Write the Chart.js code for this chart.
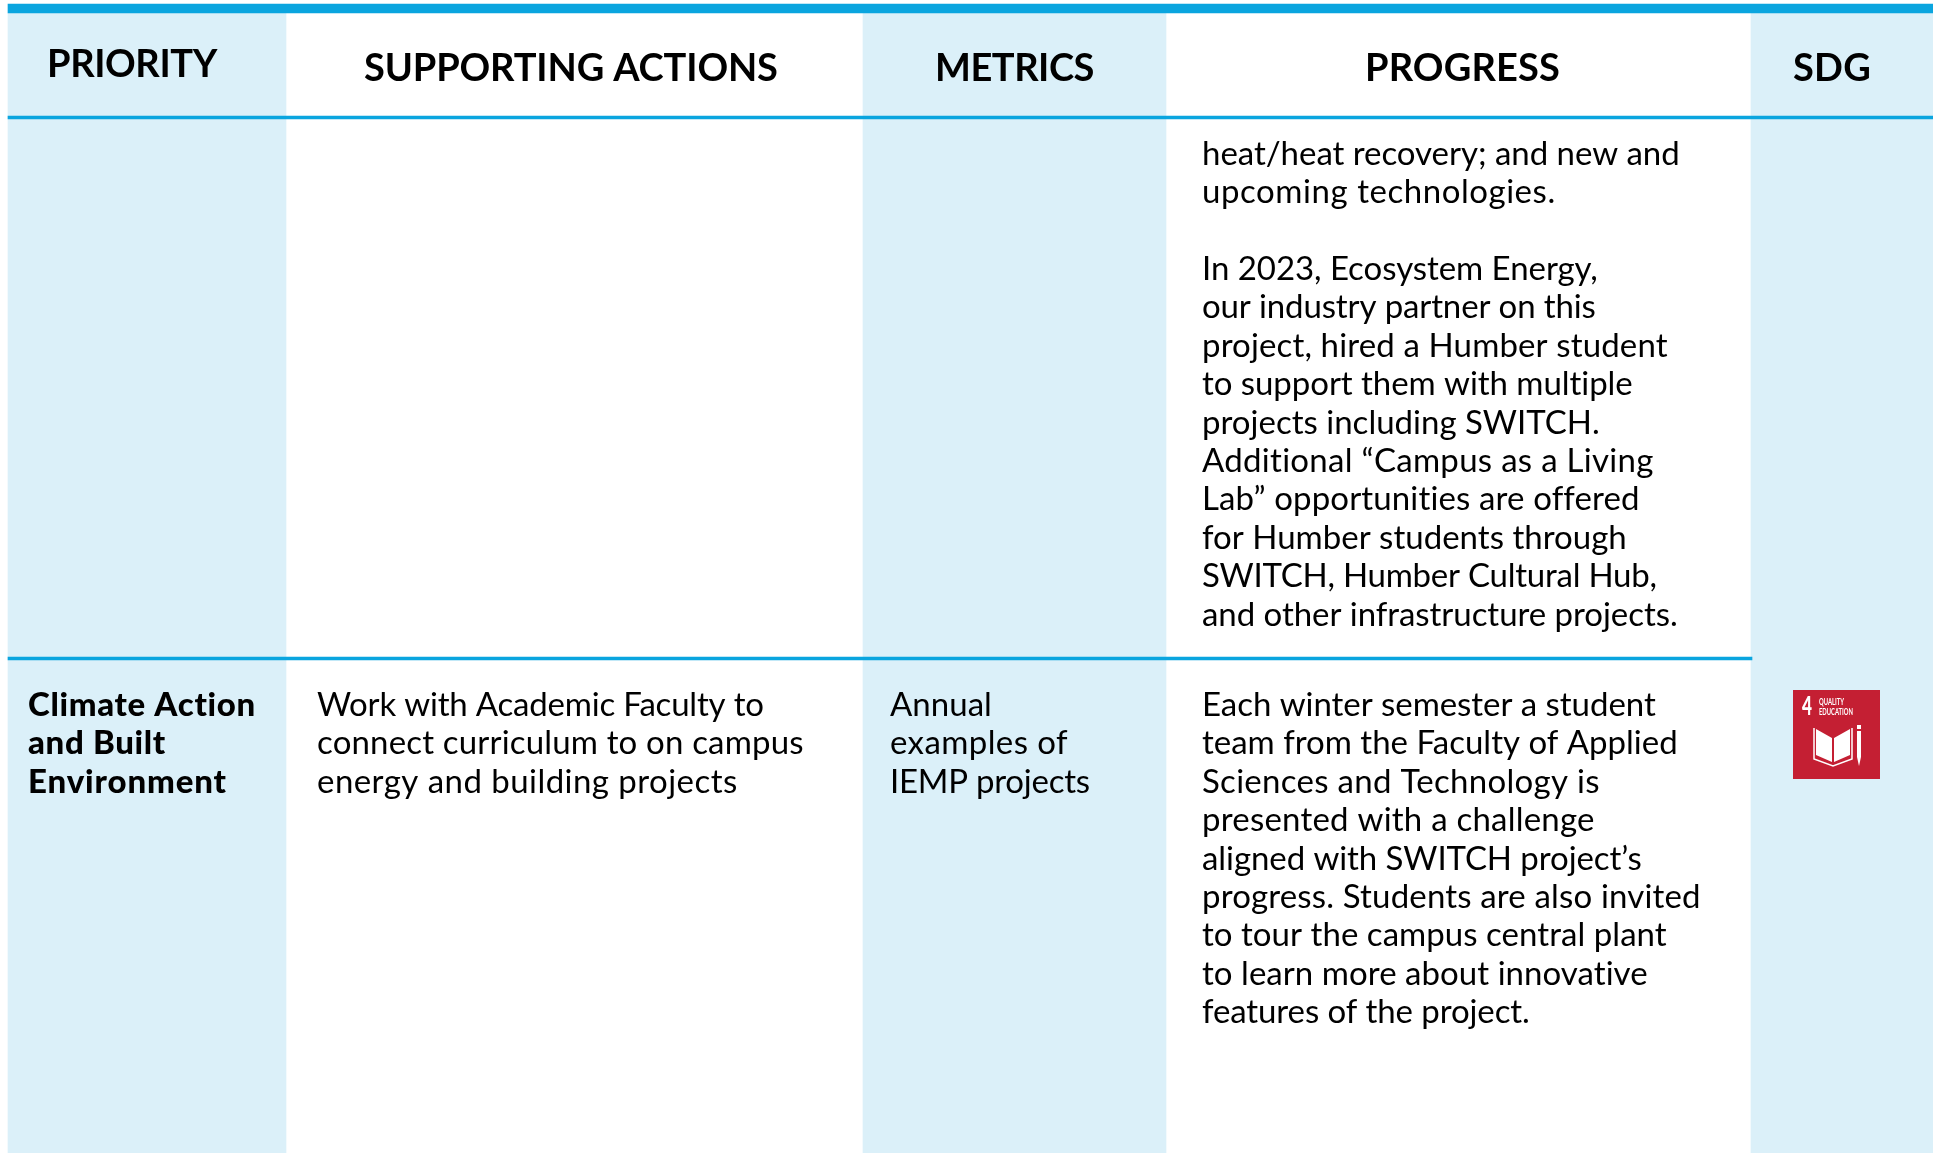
<!DOCTYPE html>
<html>
<head>
<meta charset="utf-8">
<title>Priority table</title>
<style>
    html, body { margin: 0; padding: 0; background: #fff; }
    canvas { display: block; }
</style>
<script src="https://cdn.jsdelivr.net/npm/chart.js@4.4.3/dist/chart.umd.min.js"></script>
</head>
<body>
<canvas id="chart" width="1933" height="1153"></canvas>
<script>
const headers = ['PRIORITY', 'SUPPORTING ACTIONS', 'METRICS', 'PROGRESS', 'SDG'];
const priorityLines = ['Climate Action', 'and Built', 'Environment'];
const actionLines = ['Work with Academic Faculty to', 'connect curriculum to on campus', 'energy and building projects'];
const metricLines = ['Annual', 'examples of', 'IEMP projects'];
const progressTop = ['heat/heat recovery; and new and', 'upcoming technologies.'];
const progressMiddle = [
    'In 2023, Ecosystem Energy,',
    'our industry partner on this',
    'project, hired a Humber student',
    'to support them with multiple',
    'projects including SWITCH.',
    'Additional “Campus as a Living',
    'Lab” opportunities are offered',
    'for Humber students through',
    'SWITCH, Humber Cultural Hub,',
    'and other infrastructure projects.'
];
const progressBottom = [
    'Each winter semester a student',
    'team from the Faculty of Applied',
    'Sciences and Technology is',
    'presented with a challenge',
    'aligned with SWITCH project’s',
    'progress. Students are also invited',
    'to tour the campus central plant',
    'to learn more about innovative',
    'features of the project.'
];

const BLUE = '#0aa5df';
const TINT = '#dbf0f9';
const FONT = 'Lato, "Noto Sans", sans-serif';

// tinted columns and rules are floating bars on page-sized scales
const bands = [[8, 286], [863, 1166], [1751, 1933]];
const rules = [
    { x: [8, 1933], y: 8.5, h: 9 },
    { x: [8, 1933], y: 117.5, h: 3 },
    { x: [8, 1752], y: 658.5, h: 3 }
];

// where each text line ends in the reference, the fallback font runs a bit different
const headEnds = [217, 778, 1094, 1560, 1871];
const topEnds = [1680, 1556];
const middleEnds = [1598, 1596, 1668, 1633, 1600, 1654, 1640, 1627, 1657, 1678];
const bottomEnds = [1656, 1678, 1600, 1595, 1642, 1701, 1667, 1648, 1530];
const actionEnds = [764, 804, 738];
const metricEnds = [992, 1068, 1090];
const priorityEnds = [256, 166, 227];

const bandSets = bands.map(b => ({
    data: [{ x: b, y: 583 }],
    backgroundColor: TINT,
    barThickness: 1140,
    grouped: false
}));
const ruleSets = rules.map(r => ({
    data: [{ x: r.x, y: r.y }],
    backgroundColor: BLUE,
    barThickness: r.h,
    grouped: false
}));

function fitText(ctx, text, x, end, y) {
    ctx.letterSpacing = '0.01px'; // also turns the ti/ft ligatures off
    const spare = end - x - ctx.measureText(text).width;
    ctx.letterSpacing = (spare / text.length) + 'px';
    ctx.fillText(text, x, y);
}

function drawLines(ctx, xs, ys, lines, ends, x, y, font) {
    ctx.font = font;
    lines.forEach((t, i) => fitText(ctx, t, xs.getPixelForValue(x), xs.getPixelForValue(ends[i]), ys.getPixelForValue(y + i * 38.4)));
}

function drawBadge(ctx, xs, ys) {
    const px = v => xs.getPixelForValue(v);
    const py = v => ys.getPixelForValue(v);
    ctx.letterSpacing = '0px';
    ctx.fillStyle = '#c41f33';
    ctx.fillRect(px(1793), py(690), 87, 89);
    ctx.fillStyle = '#fff';
    ctx.textAlign = 'left';
    ctx.font = `900 26px ${FONT}`;
    ctx.fillText('4', px(1802), py(715), 10);
    ctx.font = `bold 10px ${FONT}`;
    ctx.fillText('QUALITY', px(1819), py(704.5), 25);
    ctx.fillText('EDUCATION', px(1819), py(715), 34);
    // book
    ctx.beginPath();
    ctx.moveTo(px(1816), py(729));
    ctx.lineTo(px(1832), py(738));
    ctx.lineTo(px(1832), py(762));
    ctx.lineTo(px(1816), py(755));
    ctx.closePath();
    ctx.moveTo(px(1834), py(738));
    ctx.lineTo(px(1850), py(729));
    ctx.lineTo(px(1850), py(755));
    ctx.lineTo(px(1834), py(762));
    ctx.closePath();
    ctx.fill();
    ctx.strokeStyle = '#fff';
    ctx.lineWidth = 1.5;
    ctx.beginPath();
    ctx.moveTo(px(1814), py(728));
    ctx.lineTo(px(1814), py(759));
    ctx.lineTo(px(1833), py(766));
    ctx.lineTo(px(1852), py(759));
    ctx.lineTo(px(1852), py(728));
    ctx.stroke();
    // pencil
    ctx.fillRect(px(1857), py(731), 4, 26);
    ctx.beginPath();
    ctx.moveTo(px(1857), py(757));
    ctx.lineTo(px(1861), py(757));
    ctx.lineTo(px(1859), py(766));
    ctx.closePath();
    ctx.fill();
    ctx.fillRect(px(1857), py(725), 4, 4);
}

const tableText = {
    id: 'tableText',
    afterDatasetsDraw(chart) {
        const { ctx, scales: { x: xs, y: ys } } = chart;
        ctx.save();
        ctx.fillStyle = '#000';
        ctx.textBaseline = 'alphabetic';
        ctx.textAlign = 'left';

        ctx.font = `700 38px ${FONT}`;
        const headX = [47, 364, 935, 1365, 1793];
        const headY = [77, 81, 81, 81, 81];
        headers.forEach((h, i) => fitText(ctx, h, xs.getPixelForValue(headX[i]), xs.getPixelForValue(headEnds[i]), ys.getPixelForValue(headY[i])));

        const body = `400 33px ${FONT}`;
        drawLines(ctx, xs, ys, progressTop, topEnds, 1202, 165, body);
        drawLines(ctx, xs, ys, progressMiddle, middleEnds, 1202, 280, body);
        drawLines(ctx, xs, ys, progressBottom, bottomEnds, 1202, 716, body);
        drawLines(ctx, xs, ys, actionLines, actionEnds, 317, 716, body);
        drawLines(ctx, xs, ys, metricLines, metricEnds, 890, 716, body);
        drawLines(ctx, xs, ys, priorityLines, priorityEnds, 28, 716, `900 33px ${FONT}`);

        drawBadge(ctx, xs, ys);
        ctx.restore();
    }
};

new Chart(document.getElementById('chart'), {
    type: 'bar',
    data: { datasets: [...ruleSets, ...bandSets] },
    plugins: [tableText],
    options: {
        indexAxis: 'y',
        responsive: false,
        animation: false,
        layout: { padding: 0 },
        plugins: { legend: { display: false }, tooltip: { enabled: false }, title: { display: false } },
        scales: {
            x: { type: 'linear', min: 0, max: 1933, display: false },
            y: { type: 'linear', min: 0, max: 1153, reverse: true, offset: false, display: false }
        }
    }
});
</script>
</body>
</html>
